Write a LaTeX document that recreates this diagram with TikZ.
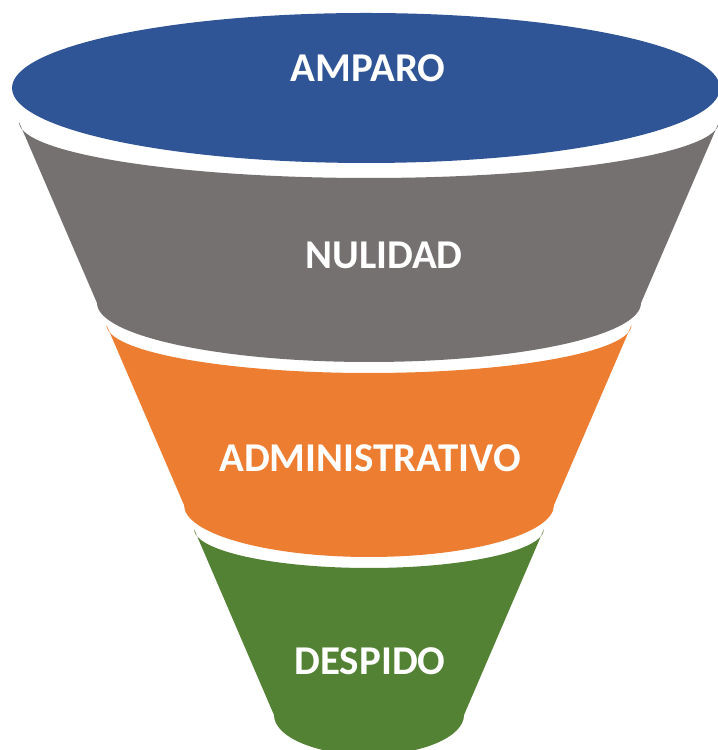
\documentclass[tikz,border=0pt]{standalone}
\usepackage{fontspec}
\setmainfont{Carlito}
\usepackage{tikz}
\usetikzlibrary{positioning}
\definecolor{ampblue}{HTML}{2F5597}
\definecolor{nulgray}{HTML}{767171}
\definecolor{admorange}{HTML}{ED7D31}
\definecolor{desgreen}{HTML}{548235}
\tikzstyle{band} = [draw=none]
\tikzstyle{label} = [text=white, font=\fontsize{23.3}{28}\selectfont\bfseries, inner sep=0pt]

\begin{document}
\begin{tikzpicture}[x=0.02cm, y=0.02cm]

\path[use as bounding box] (0,0) rectangle (717,750);

% funnel bands, bottom to top
\fill [band, desgreen] (194,221) -- (274,35) arc (180:360:95 and 40) -- (544,221) arc (0:-180:175 and 39) -- cycle;
\fill [band, admorange] (106.5,425) -- (184,245) arc (180:360:185 and 52) -- (631.5,425) arc (0:-180:262.5 and 48) -- cycle;
\fill [band, nulgray] (19,628) -- (97,447) arc (180:360:272 and 59) -- (719,628) arc (0:-180:350 and 56) -- cycle;
\fill [band, ampblue] (366,662) ellipse (354 and 75);

\node (amparo) [label] at (368,682) {AMPARO};
\node (nulidad) [label] at (384,495) {NULIDAD};
\node (admin) [label] at (370,292) {ADMINISTRATIVO};
\node (despido) [label] at (370,89) {DESPIDO};

\end{tikzpicture}
\end{document}
